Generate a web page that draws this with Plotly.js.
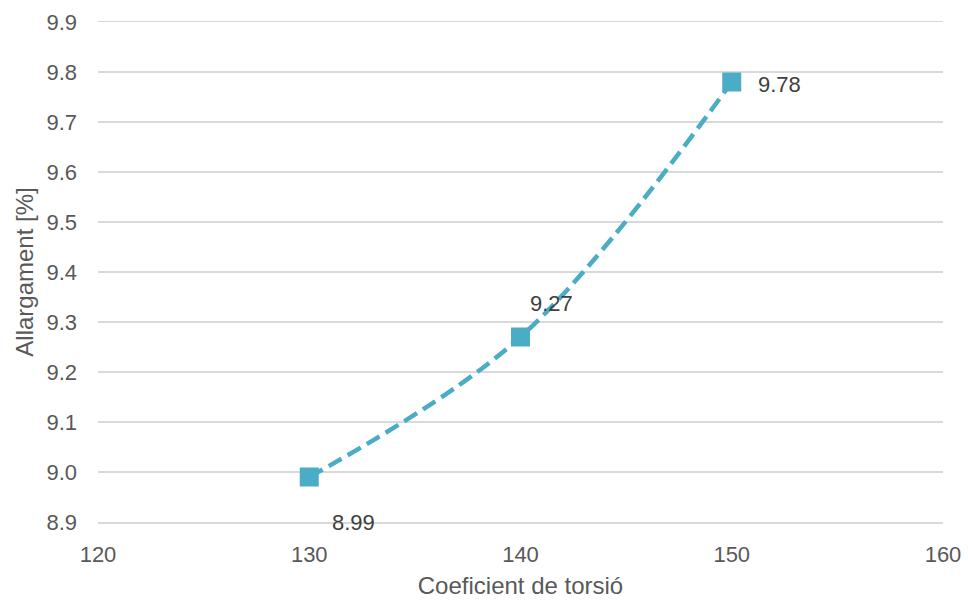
<!DOCTYPE html>
<html>
<head>
<meta charset="utf-8">
<script src="https://cdn.plot.ly/plotly-3.0.1.min.js"></script>
<style>
  html, body { margin: 0; padding: 0; background: #ffffff; }
  #chart { width: 968px; height: 600px; }
</style>
</head>
<body>
<div id="chart"></div>
<script>
// Torsion coefficient vs elongation
const torsio = [130, 140, 150];
const allargament = [8.99, 9.27, 9.78];
const etiquetes = ['8.99', '9.27', '9.78'];
const xTicks = [120, 130, 140, 150, 160];
const yTicks = [8.9, 9.0, 9.1, 9.2, 9.3, 9.4, 9.5, 9.6, 9.7, 9.8, 9.9];

const color = '#4BACC6';
const font = 'Arial, "Liberation Sans", sans-serif';

// label placement per point (pixels from the marker)
const labelShift = [[21, -45], [7, 34], [24, -2]];

const trace = {
  x: torsio,
  y: allargament,
  type: 'scatter',
  mode: 'lines+markers',
  line: { color: color, width: 4.5, dash: '15px,7px', shape: 'spline', smoothing: 1 },
  marker: { symbol: 'square', size: 19, color: color },
  hoverinfo: 'x+y'
};

const annotations = torsio.map((x, i) => ({
  x: x, y: allargament[i], xref: 'x', yref: 'y',
  text: etiquetes[i], showarrow: false,
  xanchor: 'left', yanchor: 'middle',
  xshift: labelShift[i][0], yshift: labelShift[i][1],
  font: { family: font, size: 22, color: '#404040' }
}));

const layout = {
  width: 968, height: 600,
  margin: { l: 98, r: 25, t: 22, b: 78 },
  paper_bgcolor: '#ffffff', plot_bgcolor: '#ffffff',
  showlegend: false,
  font: { family: font, size: 22, color: '#595959' },
  xaxis: {
    range: [120, 160], tickvals: xTicks, ticktext: xTicks.map(String),
    showgrid: false, zeroline: false,
    showline: true, linecolor: '#d9d9d9', linewidth: 1.5, mirror: true,
    ticks: '',
    ticklabelstandoff: 12,
    title: { text: 'Coeficient de torsió', font: { family: font, size: 24, color: '#595959' }, standoff: 11 }
  },
  yaxis: {
    range: [8.9, 9.9], tickvals: yTicks, ticktext: yTicks.map(v => v.toFixed(1)),
    showgrid: true, gridcolor: '#d9d9d9', gridwidth: 1.5,
    zeroline: false, showline: false, ticks: '',
    ticklabelstandoff: 20,
    title: { text: 'Allargament [%]', font: { family: font, size: 24, color: '#595959' }, standoff: 6 }
  },
  annotations: annotations
};

Plotly.newPlot('chart', [trace], layout, { displayModeBar: false, staticPlot: true });
</script>
</body>
</html>
